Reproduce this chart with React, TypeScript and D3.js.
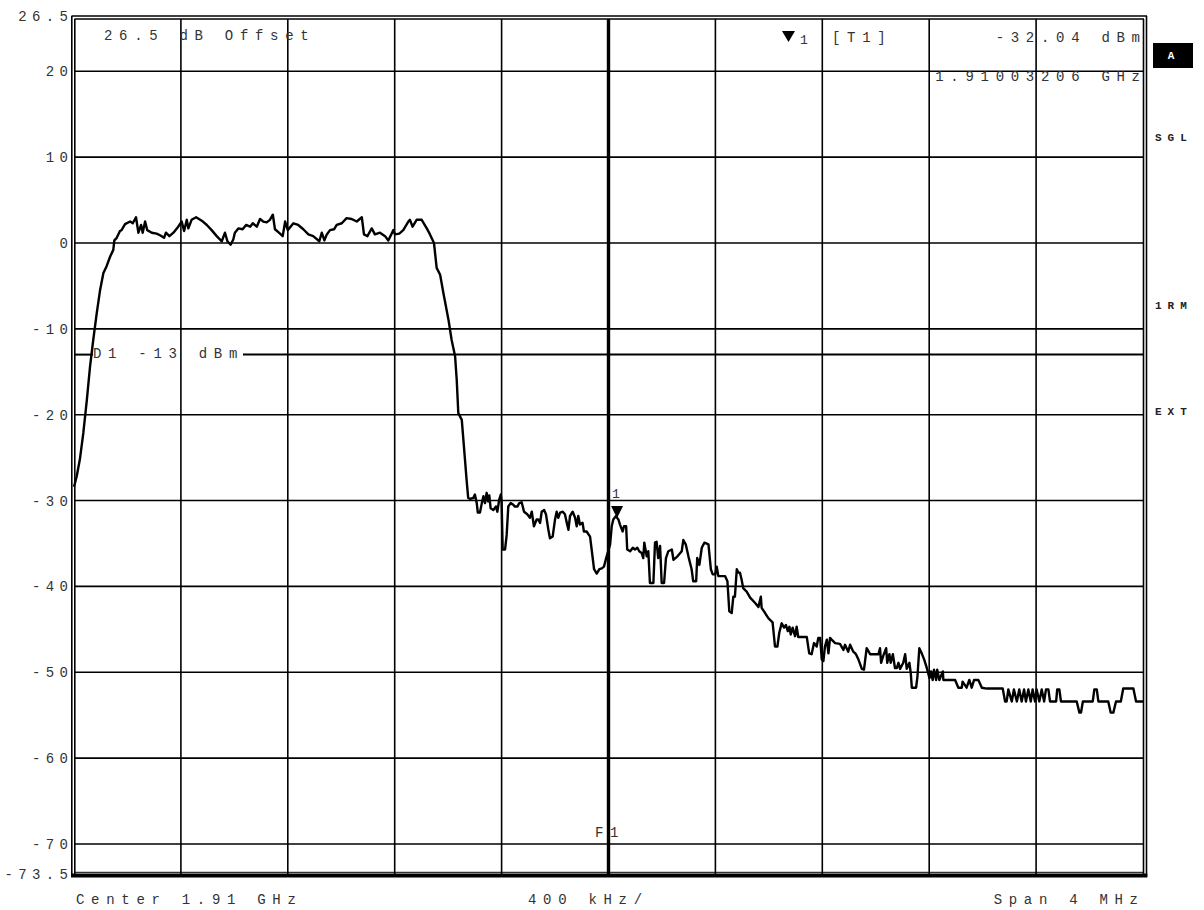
import React from "react";
import * as d3 from "d3";

// ---- data ----
const yTickValues = [26.5, 20, 10, 0, -10, -20, -30, -40, -50, -60, -70, -73.5];
const yTickLabels = ["26.5", "20", "10", "0", "-10", "-20", "-30", "-40", "-50", "-60", "-70", "-73.5"];
const hGridValues = [20, 10, 0, -10, -20, -30, -40, -50, -60, -70];
const vGridKHz = [-1600, -1200, -800, -400, 0, 400, 800, 1200, 1600];
const displayLineDbm = -13;
const markerKHz = 32;
const markerDbm = -32.04;
const sideLabels = ["SGL", "1RM", "EXT"];
const sideLabelY = [137, 305, 411];

// trace: [frequency offset from 1.91 GHz in kHz, level in dBm]
const trace: [number, number][] = [
  [-2000,-28.4],[-1990,-27.2],[-1978,-25.2],[-1965,-22.1],[-1952,-18.3],[-1940,-14.4],[-1928,-11.3],[-1915,-8.2],[-1903,-5.6],[-1890,-3.5],[-1878,-2.7],[-1865,-1.6],[-1853,-0.8],[-1849,0.3],[-1840,0.6],[-1828,1.4],[-1822,1.5],[-1809,2.2],[-1790,2.5],[-1780,2.3],[-1768,3.0],[-1759,1.2],[-1749,2.1],[-1743,1.2],[-1734,2.5],[-1726,1.5],[-1709,1.2],[-1691,1.1],[-1678,0.9],[-1663,0.6],[-1656,1.2],[-1643,0.8],[-1628,1.2],[-1610,1.9],[-1597,2.5],[-1588,1.4],[-1578,2.7],[-1572,1.7],[-1560,2.7],[-1543,3.0],[-1522,2.6],[-1503,2.1],[-1485,1.5],[-1466,0.8],[-1447,0.2],[-1435,1.2],[-1426,0.2],[-1414,-0.2],[-1404,0.4],[-1398,1.2],[-1385,1.7],[-1369,1.6],[-1356,2.1],[-1341,1.9],[-1331,2.3],[-1316,1.9],[-1304,2.8],[-1292,2.5],[-1279,2.4],[-1267,2.7],[-1256,3.3],[-1248,1.6],[-1229,1.1],[-1219,0.8],[-1210,2.5],[-1200,1.5],[-1179,2.3],[-1161,2.1],[-1142,1.6],[-1123,1.0],[-1105,0.8],[-1082,0.2],[-1073,1.2],[-1063,0.3],[-1054,1.0],[-1042,1.5],[-1027,1.6],[-1017,2.1],[-998,2.3],[-980,2.9],[-961,2.8],[-942,2.5],[-923,3.0],[-915,1.0],[-902,0.8],[-886,1.7],[-874,1.0],[-855,1.2],[-836,0.8],[-824,0.3],[-805,1.5],[-799,1.0],[-783,1.1],[-768,1.5],[-749,2.5],[-743,2.7],[-733,1.9],[-718,2.7],[-699,2.7],[-680,1.7],[-668,1.0],[-653,0.0],[-643,-2.9],[-630,-3.7],[-618,-5.8],[-599,-8.9],[-587,-11.3],[-574,-13.2],[-568,-15.9],[-562,-19.8],[-549,-20.6],[-541,-23.7],[-531,-27.6],[-525,-29.7],[-518,-29.8],[-506,-29.7],[-500,-29.3],[-493,-30.3],[-489,-31.4],[-481,-31.4],[-474,-30.3],[-468,-29.5],[-462,-30.3],[-456,-29.1],[-450,-30.1],[-446,-29.4],[-441,-30.9],[-431,-31.1],[-421,-30.7],[-416,-31.3],[-409,-29.9],[-403,-29.3],[-400,-30.1],[-396,-35.7],[-387,-35.7],[-381,-34.0],[-375,-30.7],[-366,-30.3],[-356,-30.5],[-350,-30.7],[-341,-30.7],[-334,-30.3],[-325,-30.2],[-316,-31.3],[-304,-31.6],[-294,-32.0],[-287,-31.3],[-279,-33.0],[-269,-32.2],[-263,-32.2],[-256,-32.6],[-250,-31.3],[-241,-31.1],[-234,-31.6],[-225,-33.4],[-219,-34.4],[-209,-34.2],[-200,-32.2],[-194,-31.3],[-188,-32.0],[-181,-31.4],[-171,-31.3],[-163,-31.6],[-156,-32.6],[-150,-33.4],[-144,-31.8],[-134,-31.3],[-125,-32.0],[-119,-33.0],[-113,-31.8],[-107,-32.8],[-97,-32.6],[-92,-33.6],[-82,-33.6],[-69,-34.2],[-63,-35.7],[-54,-38.0],[-44,-38.5],[-34,-38.0],[-25,-37.9],[-17,-37.7],[-7,-36.5],[-1,-35.9],[6,-35.1],[12,-33.0],[18,-32.2],[28,-31.8],[32,-32.0],[37,-32.2],[43,-32.8],[53,-33.6],[58,-33.0],[66,-33.0],[70,-35.7],[81,-35.9],[91,-35.5],[99,-35.7],[108,-35.5],[115,-35.9],[124,-36.1],[130,-36.7],[134,-34.9],[143,-36.5],[149,-35.9],[155,-39.6],[168,-39.6],[174,-34.9],[180,-34.8],[186,-36.7],[193,-35.3],[199,-39.6],[208,-39.6],[215,-36.7],[224,-35.9],[237,-35.7],[243,-36.9],[258,-36.5],[274,-35.9],[280,-34.6],[289,-35.1],[299,-36.5],[311,-38.0],[317,-39.4],[328,-39.4],[332,-36.7],[340,-37.5],[349,-35.5],[359,-34.9],[374,-35.1],[383,-38.0],[390,-38.6],[399,-38.6],[405,-37.7],[411,-38.8],[436,-38.8],[445,-39.4],[452,-42.9],[461,-43.1],[467,-41.2],[473,-41.2],[480,-38.0],[486,-38.4],[492,-38.4],[498,-39.2],[504,-40.2],[517,-40.6],[530,-41.3],[548,-41.9],[561,-42.4],[570,-41.2],[573,-42.5],[586,-43.1],[598,-43.7],[614,-44.2],[623,-47.0],[632,-47.0],[639,-45.4],[648,-44.3],[657,-44.8],[664,-44.5],[671,-45.2],[677,-44.7],[682,-45.6],[689,-44.8],[698,-45.8],[704,-44.7],[710,-45.9],[742,-45.9],[751,-47.8],[760,-47.9],[769,-46.6],[779,-47.0],[785,-46.0],[792,-46.0],[798,-48.5],[804,-48.7],[810,-47.0],[817,-46.2],[823,-47.8],[829,-46.0],[835,-46.2],[848,-46.6],[866,-46.7],[879,-47.4],[885,-46.8],[897,-47.6],[904,-46.8],[916,-47.6],[926,-47.9],[935,-48.5],[948,-49.6],[956,-49.7],[966,-47.2],[979,-47.9],[1010,-47.9],[1016,-47.2],[1020,-48.9],[1028,-48.1],[1039,-47.2],[1043,-48.9],[1051,-47.9],[1056,-48.9],[1064,-47.9],[1072,-49.5],[1079,-49.5],[1085,-48.9],[1091,-49.6],[1103,-48.9],[1110,-47.9],[1116,-49.6],[1126,-48.9],[1131,-50.1],[1135,-51.8],[1151,-51.8],[1156,-50.5],[1163,-47.2],[1172,-47.8],[1181,-48.5],[1191,-49.5],[1201,-50.7],[1207,-49.9],[1213,-50.9],[1218,-49.7],[1226,-50.9],[1230,-49.7],[1238,-50.9],[1251,-49.9],[1253,-50.9],[1297,-50.9],[1309,-51.8],[1322,-51.8],[1325,-51.1],[1340,-51.8],[1350,-50.9],[1359,-51.8],[1368,-50.9],[1384,-50.9],[1397,-51.8],[1415,-51.9],[1475,-51.9],[1484,-53.4],[1490,-53.4],[1496,-52.0],[1509,-53.4],[1517,-52.0],[1528,-53.4],[1537,-52.0],[1546,-53.4],[1555,-52.0],[1562,-53.4],[1571,-52.0],[1580,-53.4],[1587,-52.0],[1596,-53.4],[1602,-52.0],[1612,-53.4],[1621,-52.0],[1630,-53.4],[1637,-52.0],[1646,-52.0],[1652,-53.4],[1675,-53.4],[1679,-52.0],[1687,-52.0],[1693,-53.4],[1752,-53.4],[1762,-54.7],[1768,-54.7],[1775,-53.4],[1812,-53.4],[1818,-52.0],[1827,-52.0],[1833,-53.4],[1870,-53.4],[1879,-54.7],[1889,-54.7],[1899,-53.4],[1917,-53.4],[1926,-51.9],[1964,-51.9],[1974,-53.4],[2000,-53.4]
];

const W = 1204, H = 910;
const X0 = 74, X1 = 1143, YT = 15.5, YB = 874;
const FONT = "'Liberation Mono', 'DejaVu Sans Mono', monospace";
const TXT = "#333";

export default function App() {
  const x = d3.scaleLinear().domain([-2000, 2000]).range([X0, X1]);
  const y = d3.scaleLinear().domain([-73.5, 26.5]).range([YB, YT]);
  const line = d3.line<[number, number]>().x(d => x(d[0])).y(d => y(d[1]));
  const ls = 6.7;
  const txt = (s: string, px: number, py: number, anchor: "start" | "end" = "start") => (
    <text x={anchor === "end" ? px + ls : px} y={py} textAnchor={anchor} fontFamily={FONT} fontSize={14}
      letterSpacing={ls} fill={TXT}>{s}</text>
  );
  const yD1 = y(displayLineDbm);
  const mx = x(markerKHz), my = y(markerDbm);
  return (
    <div style={{ position: "absolute", left: 0, top: 0 }}>
      <svg width={W} height={H} style={{ display: "block", background: "#fff" }}>
        <rect x={0} y={0} width={W} height={H} fill="#fff" />
        {/* grid */}
        {hGridValues.map(v => (
          <line key={"h" + v} x1={X0} x2={X1} y1={y(v)} y2={y(v)} stroke="#000" strokeWidth={1.6} />
        ))}
        {vGridKHz.map(v => (
          <line key={"v" + v} x1={x(v)} x2={x(v)} y1={19} y2={YB} stroke="#000" strokeWidth={v === 0 ? 3.4 : 1.6} />
        ))}
        {/* frame */}
        <line x1={71.5} x2={1147} y1={16} y2={16} stroke="#000" strokeWidth={1.5} />
        <line x1={74.5} x2={1144} y1={19} y2={19} stroke="#000" strokeWidth={1.5} />
        <line x1={71.8} x2={71.8} y1={16} y2={877} stroke="#000" strokeWidth={1.6} />
        <line x1={74.8} x2={74.8} y1={19} y2={877} stroke="#000" strokeWidth={1.6} />
        <line x1={X1 + 0.5} x2={X1 + 0.5} y1={19} y2={877} stroke="#000" strokeWidth={1.6} />
        <line x1={1146.5} x2={1146.5} y1={16} y2={877} stroke="#000" strokeWidth={1.6} />
        <line x1={71} x2={1147.3} y1={875.5} y2={875.5} stroke="#000" strokeWidth={4} />
        <line x1={74} x2={1144} y1={872.3} y2={872.3} stroke="#000" strokeWidth={1} />
        {/* display line D1 */}
        <line x1={X0} x2={93} y1={yD1} y2={yD1} stroke="#000" strokeWidth={2} />
        <line x1={243} x2={X1} y1={yD1} y2={yD1} stroke="#000" strokeWidth={2} />
        {txt("D1 -13 dBm", 93, yD1 + 3)}
        {/* trace */}
        <path d={line(trace) || ""} fill="none" stroke="#000" strokeWidth={2.4} strokeLinejoin="round" />
        {/* marker */}
        <path d={`M${mx - 6},${my - 12} L${mx + 6},${my - 12} L${mx},${my} Z`} fill="#000" />
        <text x={mx - 5} y={my - 20} fontFamily={FONT} fontSize={13} fill={TXT}>1</text>
        {/* y labels */}
        {yTickValues.map((v, i) => (
          <text key={"yl" + v} x={68 + 5.4} y={y(v) + 5} textAnchor="end" fontFamily={FONT} fontSize={14}
            letterSpacing={5.4} fill={TXT}>{yTickLabels[i]}</text>
        ))}
        {/* header texts */}
        {txt("26.5 dB Offset", 104, 40)}
        <path d="M782,31 L795,31 L788.5,42 Z" fill="#000" />
        <text x={800} y={44} fontFamily={FONT} fontSize={13} fill={TXT}>1</text>
        {txt("[T1]", 832, 42)}
        {txt("-32.04 dBm", 1140, 42, "end")}
        {txt("1.91003206 GHz", 1140, 81, "end")}
        {/* F1 */}
        {txt("F1", 595, 837)}
        {/* footer */}
        {txt("Center 1.91 GHz", 76, 904)}
        {txt("400 kHz/", 528, 904)}
        {txt("Span 4 MHz", 1138, 904, "end")}
        {/* side labels */}
        <rect x={1153} y={43} width={40} height={25} fill="#000" />
        <text x={1171} y={59} textAnchor="middle" fontFamily={FONT} fontWeight="bold" fontSize={11} fill="#fff">A</text>
        {sideLabels.map((s, i) => (
          <text key={s} x={1155} y={sideLabelY[i] + 4} fontFamily={FONT} fontWeight="bold" fontSize={11}
            letterSpacing={6} fill="#222">{s}</text>
        ))}
      </svg>
    </div>
  );
}
